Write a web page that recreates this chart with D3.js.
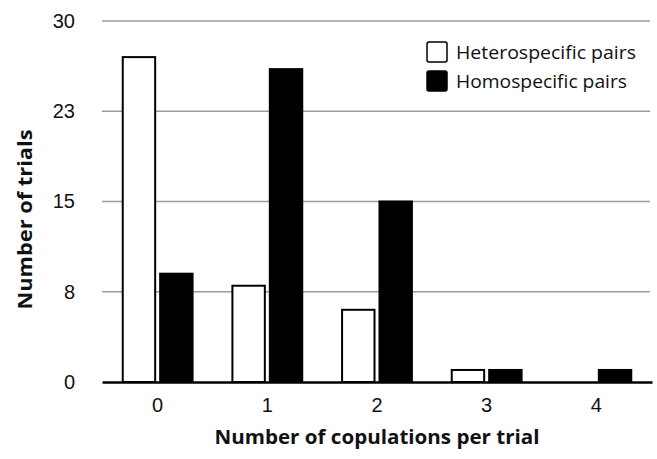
<!DOCTYPE html>
<html>
<head>
<meta charset="utf-8">
<script src="https://cdn.jsdelivr.net/npm/d3@7"></script>
<style>
  body { margin: 0; background: #fff; }
</style>
</head>
<body>
<div id="chart"></div>
<script>
var categories = ["0", "1", "2", "3", "4"];
var seriesNames = ["Heterospecific pairs", "Homospecific pairs"];
var heterospecific = [27, 8, 6, 1, 0];
var homospecific = [9, 26, 15, 1, 1];
var yTicks = [0, 7.5, 15, 22.5, 30];

var margin = { top: 21, right: 5, bottom: 77, left: 102 };
var width = 657 - margin.left - margin.right;
var height = 459 - margin.top - margin.bottom;

var svg = d3.select("#chart").append("svg")
    .attr("width", 657)
    .attr("height", 459)
    .append("g")
    .attr("transform", "translate(" + margin.left + "," + margin.top + ")");

var x0 = d3.scaleBand()
    .domain(categories)
    .range([0, width])
    .paddingInner(0.345)
    .paddingOuter(0.18);

var x1 = d3.scaleBand()
    .domain(seriesNames)
    .range([0, x0.bandwidth()])
    .paddingInner(0.08);

var y = d3.scaleLinear()
    .domain([0, 30])
    .range([height, 0]);

// gridlines
svg.append("g")
    .attr("class", "grid")
    .selectAll("line")
    .data(yTicks.slice(1))
    .enter().append("line")
    .attr("x1", 0)
    .attr("x2", width - 2)
    .attr("y1", function(d) { return y(d); })
    .attr("y2", function(d) { return y(d); })
    .attr("stroke", "#9a9a9a")
    .attr("stroke-width", 1.5);

// y axis labels
var yAxis = d3.axisLeft(y)
    .tickValues(yTicks)
    .tickSize(0)
    .tickPadding(27)
    .tickFormat(function(d) { return Math.round(d); });

svg.append("g")
    .attr("class", "y-axis")
    .call(yAxis)
    .call(function(g) { g.select(".domain").remove(); })
    .selectAll("text")
    .attr("font-family", "Liberation Sans, Arial, sans-serif")
    .attr("font-size", 20)
    .attr("fill", "#111");

var rows = categories.map(function(c, i) {
    return { cat: c, values: [heterospecific[i], homospecific[i]] };
});

var groups = svg.selectAll(".group")
    .data(rows)
    .enter().append("g")
    .attr("class", "group")
    .attr("transform", function(d) { return "translate(" + x0(d.cat) + ",0)"; });

// skip zero-height bars
groups.selectAll("rect")
    .data(function(d) {
        return d.values
            .map(function(v, i) { return { key: seriesNames[i], value: v }; })
            .filter(function(e) { return e.value > 0; });
    })
    .enter().append("rect")
    .attr("x", function(d) { return x1(d.key) + 1; })
    .attr("width", x1.bandwidth() - 2)
    .attr("y", function(d) { return y(d.value); })
    .attr("height", function(d) { return height - y(d.value); })
    .attr("fill", function(d) { return d.key === seriesNames[0] ? "#fff" : "#000"; })
    .attr("stroke", "#000")
    .attr("stroke-width", 2);

// x axis
var xAxis = d3.axisBottom(x0)
    .tickSize(0)
    .tickPadding(16);

var gx = svg.append("g")
    .attr("class", "x-axis")
    .attr("transform", "translate(0," + height + ")")
    .call(xAxis);

gx.select(".domain")
    .attr("stroke", "#000")
    .attr("stroke-width", 2.5);

gx.selectAll("text")
    .attr("font-family", "Liberation Sans, Arial, sans-serif")
    .attr("font-size", 20)
    .attr("fill", "#111");

// axis titles
svg.append("text")
    .attr("x", width / 2)
    .attr("y", height + 62)
    .attr("text-anchor", "middle")
    .attr("font-family", "Open Sans, sans-serif")
    .attr("font-weight", "bold")
    .attr("font-size", 20)
    .attr("textLength", 325)
    .attr("lengthAdjust", "spacingAndGlyphs")
    .attr("fill", "#111")
    .text("Number of copulations per trial");

svg.append("text")
    .attr("transform", "translate(" + (-70) + "," + (height / 2 + 18) + ") rotate(-90)")
    .attr("text-anchor", "middle")
    .attr("font-family", "Open Sans, sans-serif")
    .attr("font-weight", "bold")
    .attr("font-size", 20)
    .attr("textLength", 180)
    .attr("lengthAdjust", "spacingAndGlyphs")
    .attr("fill", "#111")
    .text("Number of trials");

// legend
var legend = svg.append("g")
    .attr("transform", "translate(" + (426 - margin.left) + "," + (42 - margin.top) + ")");

var items = legend.selectAll(".item")
    .data(seriesNames)
    .enter().append("g")
    .attr("class", "item")
    .attr("transform", function(d, i) { return "translate(0," + (i * 29) + ")"; });

items.append("rect")
    .attr("x", 1)
    .attr("y", 0)
    .attr("width", 20)
    .attr("height", 20)
    .attr("rx", 2)
    .attr("fill", function(d, i) { return i === 0 ? "#fff" : "#000"; })
    .attr("stroke", "#000")
    .attr("stroke-width", 1.5);

items.append("text")
    .attr("x", 30)
    .attr("y", 17)
    .attr("font-family", "Open Sans, sans-serif")
    .attr("font-size", 18)
    .attr("textLength", function(d, i) { return i === 0 ? 180 : 171; })
    .attr("lengthAdjust", "spacingAndGlyphs")
    .attr("fill", "#111")
    .text(function(d) { return d; });
</script>
</body>
</html>
